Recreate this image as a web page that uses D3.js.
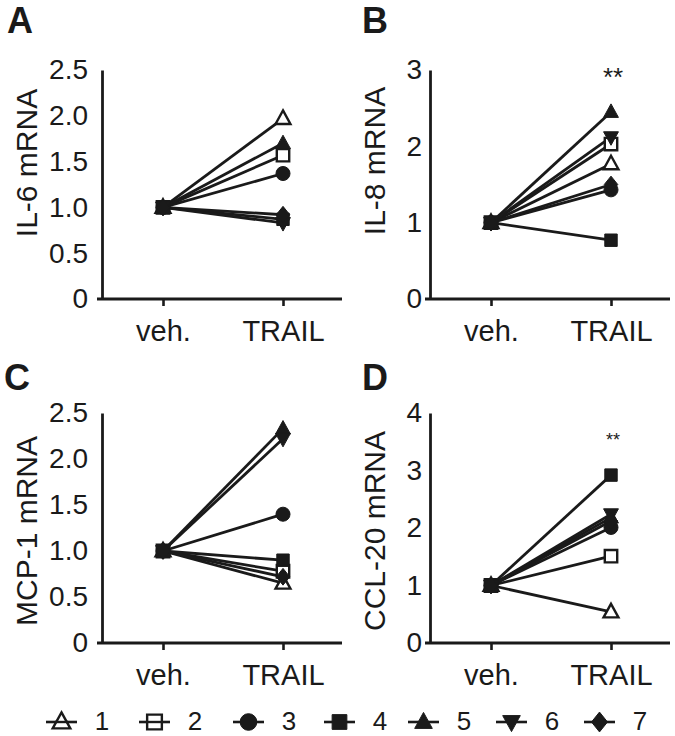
<!DOCTYPE html>
<html><head><meta charset="utf-8">
<script src="https://cdn.jsdelivr.net/npm/d3@7"></script>
<style>
body{margin:0;background:#fff}
svg{display:block}
text{font-family:"Liberation Sans",Arial,Helvetica,sans-serif;fill:#1a1a1a}
</style>
</head><body><svg id="c" width="675" height="736"></svg>
<script>
// ---------- data ----------
const categories = ["veh.", "TRAIL"];
const subjects = ["1", "2", "3", "4", "5", "6", "7"];
const markerShapes = ["triangle-open", "square-open", "circle", "square", "triangle", "triangle-down", "diamond"];
const vehValues = [1, 1, 1, 1, 1, 1, 1];
const il6Trail   = [1.97, 1.57, 1.37, 0.87, 1.70, 0.83, 0.92];
const il8Trail   = [1.77, 2.03, 1.43, 0.77, 2.45, 2.12, 1.50];
const mcp1Trail  = [0.65, 0.78, 1.40, 0.90, 2.33, 2.22, 0.72];
const ccl20Trail = [0.54, 1.51, 2.01, 2.92, 2.18, 2.24, 2.12];
const panelLetters = ["A", "B", "C", "D"];
const yTitles = ["IL-6 mRNA", "IL-8 mRNA", "MCP-1 mRNA", "CCL-20 mRNA"];
const yTicksHalf = [0, 0.5, 1.0, 1.5, 2.0, 2.5];
const yTickLabelsHalf = ["0", "0.5", "1.0", "1.5", "2.0", "2.5"];
const yTicksIL8 = [0, 1, 2, 3];
const yTicksCCL20 = [0, 1, 2, 3, 4];
const significance = ["", "**", "", "**"];

// ---------- layout ----------
const panels = [
  {letter: panelLetters[0], title: yTitles[0], trail: il6Trail, ticks: yTicksHalf, labels: yTickLabelsHalf, max: 2.5,
   axisX: 102, y0: 299, yTop: 70, pad: 14, titleX: 37, titleY: 163, letterX: 7, letterY: 33, sig: significance[0]},
  {letter: panelLetters[1], title: yTitles[1], trail: il8Trail, ticks: yTicksIL8, labels: yTicksIL8.map(String), max: 3,
   axisX: 430, y0: 299, yTop: 70, pad: 8, titleX: 385, titleY: 161, letterX: 362, letterY: 33, sig: significance[1], sigSize: 26, sigY: 86},
  {letter: panelLetters[2], title: yTitles[2], trail: mcp1Trail, ticks: yTicksHalf, labels: yTickLabelsHalf, max: 2.5,
   axisX: 102, y0: 643, yTop: 413, pad: 14, titleX: 37, titleY: 531, letterX: 4, letterY: 390, sig: significance[2]},
  {letter: panelLetters[3], title: yTitles[3], trail: ccl20Trail, ticks: yTicksCCL20, labels: yTicksCCL20.map(String), max: 4,
   axisX: 430, y0: 643, yTop: 413, pad: 8, titleX: 385, titleY: 531, letterX: 362, letterY: 390, sig: significance[3], sigSize: 18, sigY: 446}
];

const ink = "#1a1a1a";
const svg = d3.select("#c");

function markerPath(shape, s) {
  const p = d3.path();
  if (shape.startsWith("triangle-down")) {
    const w = s * 0.55, h = s;
    p.moveTo(-w, -h * 0.4); p.lineTo(w, -h * 0.4); p.lineTo(0, h * 0.6); p.closePath();
  } else if (shape.startsWith("triangle")) {
    const w = s * 0.55, h = s;
    p.moveTo(0, -h * 0.6); p.lineTo(w, h * 0.4); p.lineTo(-w, h * 0.4); p.closePath();
  } else if (shape.startsWith("square")) {
    const h = s * 0.46;
    p.rect(-h, -h, 2 * h, 2 * h);
  } else if (shape.startsWith("circle")) {
    p.arc(0, 0, s * 0.52, 0, 2 * Math.PI);
  } else if (shape.startsWith("diamond")) {
    const w = s * 0.5, h = s * 0.62;
    p.moveTo(0, -h); p.lineTo(w, 0); p.lineTo(0, h); p.lineTo(-w, 0); p.closePath();
  }
  return p.toString();
}
function isOpen(shape) { return shape.endsWith("-open"); }

panels.forEach(cfg => {
  const g = svg.append("g");
  const y = d3.scaleLinear().domain([0, cfg.max]).range([cfg.y0, cfg.yTop]);
  const x = d3.scalePoint().domain(categories).range([cfg.axisX + 61, cfg.axisX + 181]);

  // x axis line
  g.append("line").attr("x1", cfg.axisX - 5).attr("x2", cfg.axisX + 240)
    .attr("y1", cfg.y0).attr("y2", cfg.y0).attr("stroke", ink).attr("stroke-width", 2.8);
  // x ticks + labels
  const xa = g.append("g").attr("transform", `translate(0,${cfg.y0})`)
    .call(d3.axisBottom(x).tickSize(7).tickPadding(14));
  xa.select(".domain").remove();
  xa.selectAll(".tick line").attr("stroke", ink).attr("stroke-width", 2.6);
  xa.selectAll(".tick text").style("font-size", "29px").attr("fill", ink);

  // y axis
  const ya = g.append("g").attr("transform", `translate(${cfg.axisX},0)`)
    .call(d3.axisLeft(y).tickValues(cfg.ticks).tickFormat((d, i) => cfg.labels[i]).tickSize(0).tickPadding(cfg.pad));
  ya.select(".domain").attr("stroke", ink).attr("stroke-width", 2.8);
  ya.selectAll(".tick text").style("font-size", "28px").attr("fill", ink);

  // y title
  g.append("text").attr("transform", `translate(${cfg.titleX},${cfg.titleY}) rotate(-90)`)
    .attr("text-anchor", "middle").style("font-size", "30px").text(cfg.title);

  // panel letter
  g.append("text").attr("x", cfg.letterX).attr("y", cfg.letterY)
    .style("font-size", "36px").style("font-weight", "bold").text(cfg.letter);

  // significance
  if (cfg.sig) {
    g.append("text").attr("x", x("TRAIL") + 2).attr("y", cfg.sigY).attr("text-anchor", "middle")
      .style("font-size", cfg.sigSize + "px").text(cfg.sig);
  }

  const rows = subjects.map((s, i) => ({s, shape: markerShapes[i], v: [vehValues[i], cfg.trail[i]]}));

  // lines
  g.selectAll("line.pair").data(rows).join("line").attr("class", "pair")
    .attr("x1", x(categories[0])).attr("x2", x(categories[1]))
    .attr("y1", d => y(d.v[0])).attr("y2", d => y(d.v[1]))
    .attr("stroke", ink).attr("stroke-width", 2.8);

  // markers
  rows.forEach(d => {
    categories.forEach((c, ci) => {
      g.append("path").attr("d", markerPath(d.shape, 13.5))
        .attr("transform", `translate(${x(c)},${y(d.v[ci])})`)
        .attr("fill", isOpen(d.shape) ? "#fff" : ink)
        .attr("stroke", ink).attr("stroke-width", isOpen(d.shape) ? 2.4 : 1)
        .attr("stroke-linejoin", "miter");
    });
  });
});

// legend
const legendStarts = [46, 139, 233, 324, 408, 496, 584];
const lg = svg.append("g");
subjects.forEach((s, i) => {
  const x0 = legendStarts[i];
  lg.append("line").attr("x1", x0).attr("x2", x0 + 31).attr("y1", 722).attr("y2", 722)
    .attr("stroke", ink).attr("stroke-width", 2.6);
  lg.append("path").attr("d", markerPath(markerShapes[i], 16))
    .attr("transform", `translate(${x0 + 15.5},722)`)
    .attr("fill", isOpen(markerShapes[i]) ? "#fff" : ink)
    .attr("stroke", ink).attr("stroke-width", isOpen(markerShapes[i]) ? 2.4 : 1);
  if (isOpen(markerShapes[i])) {
    lg.append("line").attr("x1", x0 + 9).attr("x2", x0 + 22).attr("y1", 722).attr("y2", 722)
      .attr("stroke", ink).attr("stroke-width", 2.4);
  }
  lg.append("text").attr("x", x0 + 56).attr("y", 730).attr("text-anchor", "middle")
    .style("font-size", "26px").text(s);
});
</script>
</body></html>
